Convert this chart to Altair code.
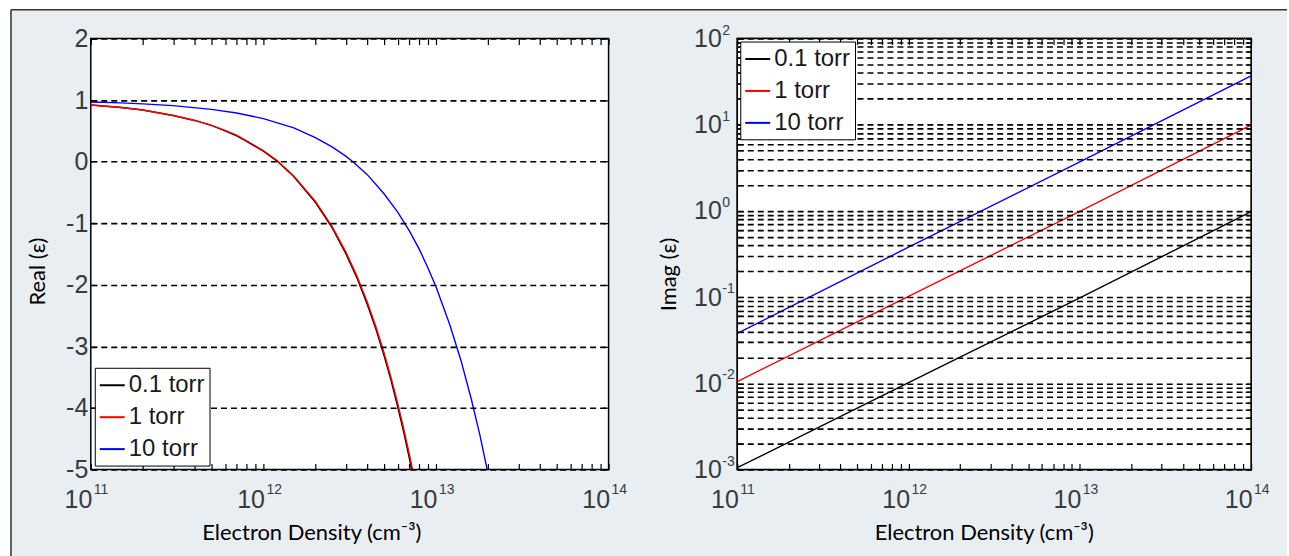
import altair as alt
import pandas as pd

# ---------------- data ----------------
series_names = ["0.1 torr", "1 torr", "10 torr"]
series_colors = ["#000000", "#ff0000", "#0000ff"]

# Left panel: Real(eps) vs electron density
real_n_01 = [1e11, 1.5e11, 2e11, 3e11, 4e11, 5e11, 6e11, 7e11, 8e11, 1e12, 1.2e12, 1.5e12,
             2e12, 2.5e12, 3e12, 3.5e12, 4e12, 4.5e12, 5e12, 5.5e12, 6e12, 6.5e12, 7e12, 7.22e12]
real_v_01 = [0.92, 0.88, 0.84, 0.75, 0.67, 0.59, 0.50, 0.42, 0.33, 0.17, 0.01, -0.24,
             -0.66, -1.07, -1.49, -1.90, -2.32, -2.73, -3.15, -3.56, -3.98, -4.39, -4.81, -5.0]
real_n_1 = [1e11, 1.5e11, 2e11, 3e11, 4e11, 5e11, 6e11, 7e11, 8e11, 1e12, 1.2e12, 1.5e12,
            2e12, 2.5e12, 3e12, 3.5e12, 4e12, 4.5e12, 5e12, 5.5e12, 6e12, 6.5e12, 7e12, 7.32e12]
real_v_1 = [0.92, 0.88, 0.84, 0.75, 0.67, 0.59, 0.51, 0.43, 0.34, 0.18, 0.02, -0.23,
            -0.64, -1.05, -1.46, -1.87, -2.28, -2.69, -3.10, -3.51, -3.92, -4.33, -4.74, -5.0]
real_n_10 = [1e11, 1.5e11, 2e11, 3e11, 5e11, 7e11, 1e12, 1.5e12, 2e12, 2.5e12, 3e12, 3.3e12,
             4e12, 5e12, 6e12, 7e12, 8e12, 9e12, 1e13, 1.2e13, 1.4e13, 1.6e13, 1.8e13, 1.98e13]
real_v_10 = [0.97, 0.955, 0.94, 0.91, 0.85, 0.79, 0.70, 0.55, 0.39, 0.24, 0.09, 0.0,
             -0.21, -0.52, -0.82, -1.12, -1.42, -1.73, -2.03, -2.64, -3.24, -3.85, -4.45, -5.0]

# Right panel: Imag(eps) vs electron density
imag_n = [1e11, 1e12, 1e13, 1e14]
imag_v_01 = [0.00105, 0.0102, 0.098, 0.98]
imag_v_1 = [0.0105, 0.102, 0.99, 9.9]
imag_v_10 = [0.038, 0.38, 3.7, 37.0]

# tick labels
x_major = [1e11, 1e12, 1e13, 1e14]
x_exp = ["11", "12", "13", "14"]
x_ticks = [k * 10.0 ** e for e in range(11, 14) for k in range(1, 10)] + [1e14]
real_ticks = [-5, -4, -3, -2, -1, 0, 1, 2]
imag_major = [0.001, 0.01, 0.1, 1.0, 10.0, 100.0]
imag_exp = ["-3", "-2", "-1", "0", "1", "2"]
imag_ticks = [k * 10.0 ** e for e in range(-3, 2) for k in range(1, 10)] + [100.0]

# ---------------- tables ----------------
df_real = pd.DataFrame({
    "n": real_n_01 + real_n_1 + real_n_10,
    "v": real_v_01 + real_v_1 + real_v_10,
    "p": [series_names[0]] * len(real_n_01) + [series_names[1]] * len(real_n_1)
         + [series_names[2]] * len(real_n_10),
})
df_imag = pd.DataFrame({
    "n": imag_n * 3,
    "v": imag_v_01 + imag_v_1 + imag_v_10,
    "p": [s for s in series_names for _ in imag_n],
})
df_xexp = pd.DataFrame({"n": x_major, "e": x_exp})
df_yexp = pd.DataFrame({"v": imag_major, "e": imag_exp})
one = pd.DataFrame({"k": [0]})

# ---------------- style ----------------
W1, W2, H = 519, 515, 432
BOTTOM = 519          # lowest drawn pixel, relative to the left plot's top
RIGHT = 1199          # rightmost drawn pixel, relative to the left plot's left
BG = "#e9eef3"
TICK_FONT = "Liberation Sans"
TITLE_FONT = "Lato"
LABEL_COLOR = "#3a3a3a"
TS = 6  # tick size (inward)


def major_expr(values, text):
    arr = ",".join(repr(float(v)) for v in values)
    return f"indexof([{arr}], datum.value) >= 0 ? '{text}' : ''"


xs = alt.Scale(type="log", domain=[1e11, 1e14], nice=False)
ys_real = alt.Scale(domain=[-5, 2], nice=False, zero=False)
ys_imag = alt.Scale(type="log", domain=[1e-3, 1e2], nice=False)
color_scale = alt.Scale(domain=series_names, range=series_colors)

common_tick = dict(tickSize=TS, tickColor="black", tickWidth=1.2, offset=-TS,
                   domain=False, zindex=1)


def x_bottom(title_x):
    return alt.Axis(orient="bottom", values=x_ticks, labelExpr=major_expr(x_major, "10"),
                    labelFont=TICK_FONT, labelFontSize=25, labelColor=LABEL_COLOR,
                    labelAlign="right", labelBaseline="top", labelPadding=18, labelOffset=1,
                    labelFlush=False, labelOverlap=False, grid=False,
                    title="Electron Density (cm\u207b\u00b3)", titleFont=TITLE_FONT,
                    titleFontSize=22, titleFontWeight="normal", titleColor="black",
                    titleX=title_x, titleY=69, titleAlign="center", titleBaseline="middle",
                    **common_tick)


def x_top():
    return alt.Axis(orient="top", values=x_ticks, labels=False, grid=False, title=None,
                    **common_tick)


def legend(orient, offset):
    return alt.Legend(orient=orient, offset=offset, title=None, fillColor="white",
                      strokeColor="black", padding=4, labelFont=TICK_FONT, labelFontSize=24,
                      labelColor="#1a1a1a", symbolType="stroke", symbolSize=625,
                      symbolStrokeWidth=2, rowPadding=6, labelOffset=3, zindex=2)


def xexp_layer():
    return alt.Chart(df_xexp).mark_text(
        align="left", baseline="alphabetic", font=TICK_FONT, fontSize=14,
        color=LABEL_COLOR, dx=3
    ).encode(x=alt.X("n:Q", scale=xs, axis=None), y=alt.value(H + 24), text="e:N")


# ---------------- left panel ----------------
bg_white = alt.Chart(one).mark_rect(fill="white").encode(
    x=alt.value(-90), x2=alt.value(RIGHT), y=alt.value(-37), y2=alt.value(BOTTOM))
bg_light = alt.Chart(one).mark_rect(fill=BG).encode(
    x=alt.value(-80), x2=alt.value(RIGHT), y=alt.value(-29), y2=alt.value(BOTTOM))
border_top = alt.Chart(one).mark_rule(color="#333333", strokeWidth=1.5).encode(
    x=alt.value(-80), x2=alt.value(RIGHT), y=alt.value(-29))
border_left = alt.Chart(one).mark_rule(color="#333333", strokeWidth=1.5).encode(
    x=alt.value(-80), y=alt.value(-29), y2=alt.value(BOTTOM))


def plot_bg():
    return alt.Chart(one).mark_rect(fill="white", stroke="black", strokeWidth=1.5).encode(
        x=alt.value(0), x2=alt.value("width"), y=alt.value(0), y2=alt.value("height"))


real_lines = alt.Chart(df_real).mark_line(strokeWidth=1.4).encode(
    x=alt.X("n:Q", scale=xs, axis=x_bottom(221)),
    y=alt.Y("v:Q", scale=ys_real, axis=alt.Axis(
        orient="left", values=real_ticks, labelExpr="'' + datum.value",
        labelFont=TICK_FONT, labelFontSize=25,
        labelColor=LABEL_COLOR, labelPadding=3, labelBaseline="middle", labelFlush=False,
        grid=True, gridDash=[6, 4], gridColor="black", gridWidth=1.6, gridOpacity=1,
        title="Real (\u03b5)", titleFont=TITLE_FONT, titleFontSize=22,
        titleFontWeight="normal", titleColor="black", titleX=-59, titleY=233,
        titleAlign="center", titleBaseline="middle", titleAngle=270, **common_tick)),
    color=alt.Color("p:N", scale=color_scale, legend=legend("bottom-left", 4)),
)
real_frame_axes = alt.Chart(df_real).mark_line(opacity=0).encode(
    x=alt.X("n:Q", scale=xs, axis=x_top()),
    y=alt.Y("v:Q", scale=ys_real, axis=alt.Axis(orient="right", values=real_ticks,
                                                 labels=False, grid=False, title=None,
                                                 **common_tick)),
    detail="p:N",
)

left = alt.layer(bg_white, bg_light, border_top, border_left, plot_bg(),
                 real_lines, real_frame_axes, xexp_layer()).resolve_axis(
    x="independent", y="independent").properties(width=W1, height=H)

# ---------------- right panel ----------------
imag_lines = alt.Chart(df_imag).mark_line(strokeWidth=1.4).encode(
    x=alt.X("n:Q", scale=xs, axis=x_bottom(247)),
    y=alt.Y("v:Q", scale=ys_imag, axis=alt.Axis(
        orient="left", values=imag_ticks, labelExpr=major_expr(imag_major, "10"),
        labelFont=TICK_FONT, labelFontSize=25, labelColor=LABEL_COLOR, labelPadding=16,
        labelBaseline="middle", labelFlush=False, labelOverlap=False,
        grid=True, gridDash=[6, 4], gridColor="black", gridWidth=1.6, gridOpacity=1,
        title="Imag (\u03b5)", titleFont=TITLE_FONT, titleFontSize=22,
        titleFontWeight="normal", titleColor="black", titleX=-75, titleY=236,
        titleAlign="center", titleBaseline="middle", titleAngle=270, **common_tick)),
    color=alt.Color("p:N", scale=color_scale, legend=legend("top-left", 3)),
)
imag_frame_axes = alt.Chart(df_imag).mark_line(opacity=0).encode(
    x=alt.X("n:Q", scale=xs, axis=x_top()),
    y=alt.Y("v:Q", scale=ys_imag, axis=alt.Axis(orient="right", values=imag_ticks,
                                                 labels=False, grid=False, title=None,
                                                 **common_tick)),
    detail="p:N",
)
yexp = alt.Chart(df_yexp).mark_text(
    align="left", baseline="alphabetic", font=TICK_FONT, fontSize=14, color=LABEL_COLOR,
    dy=-4
).encode(x=alt.value(-15), y=alt.Y("v:Q", scale=ys_imag, axis=None), text="e:N")

right = alt.layer(plot_bg(), imag_lines, imag_frame_axes, xexp_layer(), yexp).resolve_axis(
    x="independent", y="independent").properties(width=W2, height=H)

chart = alt.hconcat(left, right, spacing=129, bounds="flush").resolve_scale(
    x="independent", y="independent", color="independent"
).resolve_legend(color="independent").properties(
    padding=0, background="white"
).configure_view(fill="white", stroke="black", strokeWidth=1.5)

chart.save("out.html", embed_options={"renderer": "svg", "actions": False})
